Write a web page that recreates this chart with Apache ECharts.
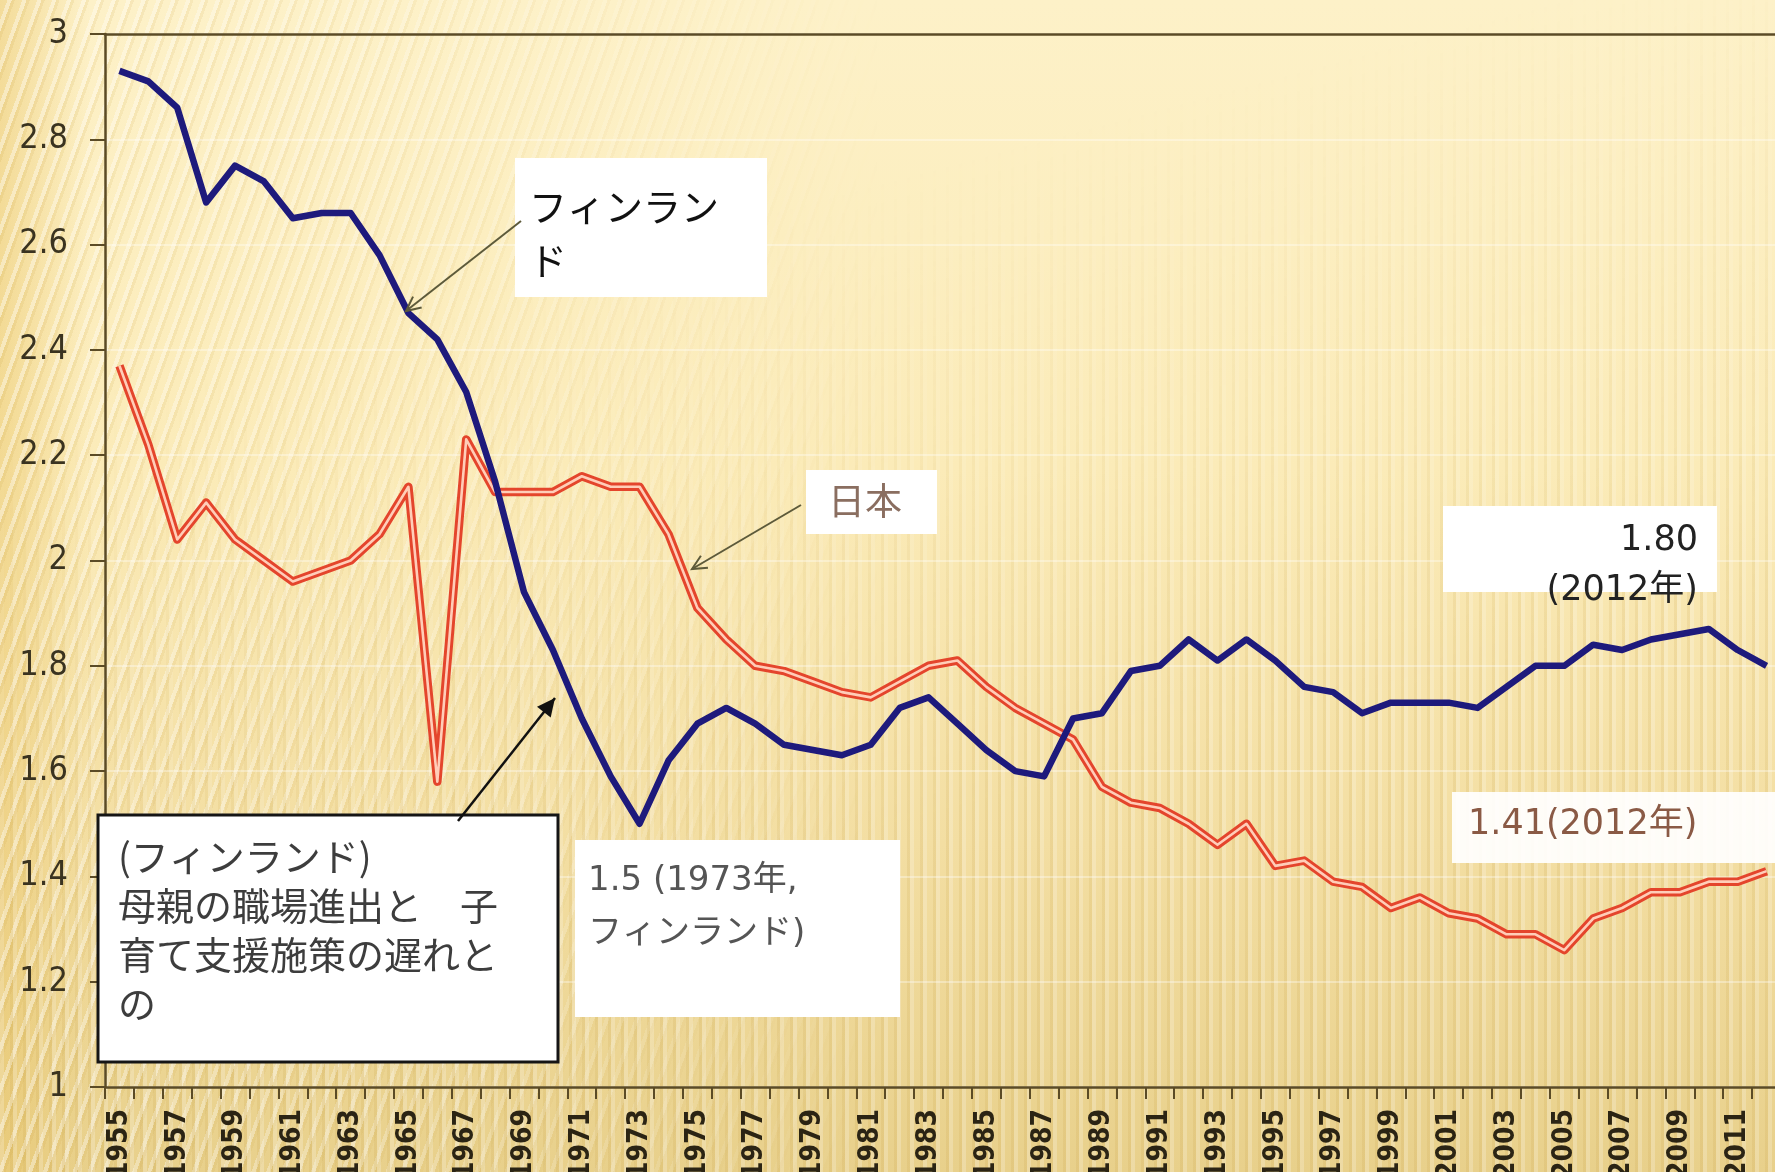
<!DOCTYPE html>
<html>
<head>
<meta charset="utf-8">
<script src="https://cdn.jsdelivr.net/npm/echarts@6/dist/echarts.min.js"></script>
<style>
  html, body { margin: 0; padding: 0; }
  #wrap {
    position: relative; width: 1775px; height: 1172px; overflow: hidden;
    background: linear-gradient(180deg, #fdf1c8 0%, #fbebb8 40%, #f3dea2 72%, #e8d08b 100%);
  }
  .bg { position: absolute; left: 0; top: 0; width: 100%; height: 100%; }
  #stripesL {
    background: repeating-linear-gradient(110deg, rgba(255,255,255,0) 0 7px, rgba(255,255,255,0.38) 7px 11px, rgba(205,165,70,0.14) 11px 14px);
    -webkit-mask-image: linear-gradient(90deg, #000 0%, rgba(0,0,0,0.7) 20%, rgba(0,0,0,0) 50%);
    mask-image: linear-gradient(90deg, #000 0%, rgba(0,0,0,0.7) 20%, rgba(0,0,0,0) 50%);
  }
  #stripesR {
    background: repeating-linear-gradient(90deg, rgba(255,255,255,0.22) 0 4px, rgba(255,255,255,0) 4px 10px, rgba(195,155,60,0.14) 10px 13px);
    -webkit-mask-image: linear-gradient(165deg, rgba(0,0,0,0) 25%, #000 65%);
    mask-image: linear-gradient(165deg, rgba(0,0,0,0) 25%, #000 65%);
  }
  #edge { background: linear-gradient(90deg, rgba(232,195,100,0.45) 0, rgba(232,195,100,0) 90px); }
  #chart { position: absolute; left: 0; top: 0; width: 1775px; height: 1172px; }
</style>
</head>
<body>
<div id="wrap">
  <div class="bg" id="edge"></div>
  <div class="bg" id="stripesL"></div>
  <div class="bg" id="stripesR"></div>
  <div id="chart"></div>
</div>
<script>
// 合計特殊出生率 フィンランド / 日本 1955-2012
const years = ['1955','1956','1957','1958','1959','1960','1961','1962','1963','1964',
  '1965','1966','1967','1968','1969','1970','1971','1972','1973','1974',
  '1975','1976','1977','1978','1979','1980','1981','1982','1983','1984',
  '1985','1986','1987','1988','1989','1990','1991','1992','1993','1994',
  '1995','1996','1997','1998','1999','2000','2001','2002','2003','2004',
  '2005','2006','2007','2008','2009','2010','2011','2012']

const finland = [2.93, 2.91, 2.86, 2.68, 2.75, 2.72, 2.65, 2.66, 2.66, 2.58,
  2.47, 2.42, 2.32, 2.15, 1.94, 1.83, 1.70, 1.59, 1.50, 1.62,
  1.69, 1.72, 1.69, 1.65, 1.64, 1.63, 1.65, 1.72, 1.74, 1.69,
  1.64, 1.60, 1.59, 1.70, 1.71, 1.79, 1.80, 1.85, 1.81, 1.85,
  1.81, 1.76, 1.75, 1.71, 1.73, 1.73, 1.73, 1.72, 1.76, 1.80,
  1.80, 1.84, 1.83, 1.85, 1.86, 1.87, 1.83, 1.80]

const japan = [2.37, 2.22, 2.04, 2.11, 2.04, 2.00, 1.96, 1.98, 2.00, 2.05,
  2.14, 1.58, 2.23, 2.13, 2.13, 2.13, 2.16, 2.14, 2.14, 2.05,
  1.91, 1.85, 1.80, 1.79, 1.77, 1.75, 1.74, 1.77, 1.80, 1.81,
  1.76, 1.72, 1.69, 1.66, 1.57, 1.54, 1.53, 1.50, 1.46, 1.50,
  1.42, 1.43, 1.39, 1.38, 1.34, 1.36, 1.33, 1.32, 1.29, 1.29,
  1.26, 1.32, 1.34, 1.37, 1.37, 1.39, 1.39, 1.41]

const axisColor = '#5b4b26'
const jpFont = '"Noto Sans CJK JP", sans-serif'
const wideFont = '"DejaVu Sans", "Noto Sans CJK JP", sans-serif'
const numFont = '"Liberation Sans Narrow", "DejaVu Sans Condensed", "Liberation Sans", sans-serif'

// 矢印 (線 + 矢じり)
function arrow(x1, y1, x2, y2, color, width, head, filled) {
  const a = Math.atan2(y2 - y1, x2 - x1)
  const p1 = [x2 - head * Math.cos(a - 0.45), y2 - head * Math.sin(a - 0.45)]
  const p2 = [x2 - head * Math.cos(a + 0.45), y2 - head * Math.sin(a + 0.45)]
  const tip = filled
    ? {type: 'polygon', z: 100, shape: {points: [[x2, y2], p1, p2]}, style: {fill: color}}
    : {type: 'polyline', z: 100, shape: {points: [p1, [x2, y2], p2]}, style: {stroke: color, lineWidth: width, fill: null}}
  return [
    {type: 'line', z: 100, shape: {x1: x1, y1: y1, x2: x2, y2: y2}, style: {stroke: color, lineWidth: width}},
    tip
  ]
}

function box(x, y, w, h, extra) {
  return Object.assign({type: 'rect', z: 99, shape: {x: x, y: y, width: w, height: h},
    style: {fill: '#ffffff'}}, extra || {})
}

function label(x, y, text, font, color, opts) {
  return {type: 'text', z: 101, x: x, y: y,
    style: Object.assign({text: text, font: font, fill: color,
      align: 'left', verticalAlign: 'top'}, opts || {})}
}

const chart = echarts.init(document.getElementById('chart'))

chart.setOption({
  animation: false,
  backgroundColor: 'transparent',
  grid: {left: 105, right: -6, top: 34, bottom: 85, containLabel: false, outerBoundsMode: 'none'},
  xAxis: [{
    type: 'category',
    data: years,
    boundaryGap: true,
    axisLine: {lineStyle: {color: axisColor, width: 2.5}},
    axisTick: {show: true, interval: 0, length: 12, lineStyle: {color: axisColor, width: 2}},
    axisLabel: {
      interval: 1, rotate: 90, margin: 22,
      fontSize: 28, fontWeight: 'bold', fontFamily: numFont, color: '#2b2414'
    },
    splitLine: {show: false}
  }, {
    type: 'category',
    position: 'top',
    data: years,
    axisLine: {lineStyle: {color: axisColor, width: 2.5}},
    axisTick: {show: false},
    axisLabel: {show: false}
  }],
  yAxis: {
    type: 'value',
    min: 1, max: 3, interval: 0.2,
    axisLine: {show: true, lineStyle: {color: axisColor, width: 2.5}},
    axisTick: {show: true, length: 15, lineStyle: {color: axisColor, width: 2}},
    axisLabel: {margin: 37, fontSize: 34, fontFamily: numFont, color: '#3a3320'},
    splitLine: {show: true, lineStyle: {color: 'rgba(255,255,255,0.45)', width: 1.5}}
  },
  series: [
    {
      name: '日本', type: 'line', data: japan, symbol: 'none',
      lineStyle: {color: '#e4452c', width: 8.5, join: 'round'}, z: 2
    },
    {
      name: '日本 (中線)', type: 'line', data: japan, symbol: 'none', silent: true,
      lineStyle: {color: '#ffcdb8', width: 2.6, join: 'round'}, z: 3
    },
    {
      name: 'フィンランド', type: 'line', data: finland, symbol: 'none',
      lineStyle: {color: '#1e1a7c', width: 6.5, join: 'round'}, z: 4
    }
  ],
  graphic: [
    // フィンランド
    box(515, 158, 252, 139),
    label(529, 180, 'フィンラン\nド', '38px ' + jpFont, '#111111', {lineHeight: 54}),
    ...arrow(521, 221, 406, 311, '#5d5a3a', 2, 16, false),
    // 日本
    box(806, 470, 131, 64),
    label(828, 482, '日本', '37px ' + jpFont, '#8a6e60'),
    ...arrow(801, 505, 692, 569, '#5d5a3a', 2, 16, false),
    // 説明ボックス
    box(98, 815, 460, 247, {style: {fill: '#ffffff', stroke: '#151515', lineWidth: 3}}),
    label(118, 832, '(フィンランド)\n母親の職場進出と　子\n育て支援施策の遅れと\nの', '38px ' + jpFont, '#3d3d3d', {lineHeight: 49}),
    ...arrow(458, 821, 555, 698, '#111111', 2.5, 20, true),
    // 1.5 (1973年)
    box(575, 840, 325, 177),
    label(588, 855, '1.5 (1973年,\nフィンランド)', '34px ' + wideFont, '#555555', {lineHeight: 53}),
    // 1.80 (2012年)
    box(1443, 506, 274, 86),
    label(1698, 516, '1.80\n(2012年)', '35px ' + wideFont, '#222222', {align: 'right', lineHeight: 50}),
    // 1.41 (2012年)
    box(1452, 792, 323, 71, {style: {fill: 'rgba(255,255,255,0.92)'}}),
    label(1468, 807, '1.41(2012年)', '35px ' + wideFont, '#8a5a45')
  ]
})
</script>
</body>
</html>
